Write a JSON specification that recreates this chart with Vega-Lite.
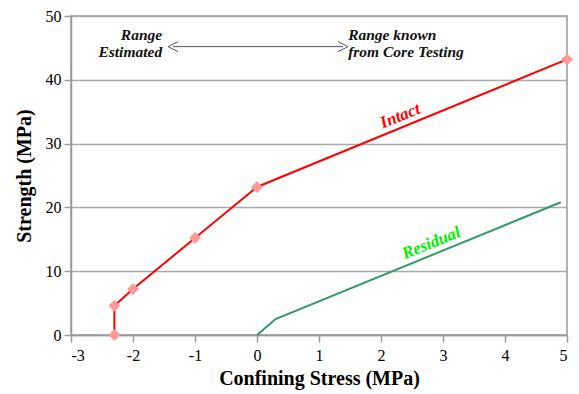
{
  "$schema": "https://vega.github.io/schema/vega-lite/v6.json",
  "width": 496,
  "height": 319,
  "autosize": {"type": "none"},
  "padding": {"left": 71, "top": 16, "right": 12, "bottom": 59},
  "background": "white",
  "config": {
    "view": {"stroke": "#999999", "strokeWidth": 1.5},
    "font": "Liberation Serif",
    "axis": {
      "domainColor": "#999999",
      "domainWidth": 1.5,
      "tickColor": "#999999",
      "tickWidth": 1.5,
      "tickSize": 7,
      "labelFont": "Liberation Serif",
      "labelFontSize": 16,
      "labelColor": "black",
      "titleFont": "Liberation Serif",
      "titleFontSize": 20,
      "titleFontWeight": "bold",
      "titleColor": "black",
      "gridColor": "#aaaaaa",
      "gridWidth": 1.5
    }
  },
  "datasets": {
    "intact": [
      {"i": 1, "x": -2.3, "y": 0},
      {"i": 2, "x": -2.3, "y": 4.6},
      {"i": 3, "x": -2, "y": 7.2},
      {"i": 4, "x": -1, "y": 15.2},
      {"i": 5, "x": 0, "y": 23.2},
      {"i": 6, "x": 5, "y": 43.2}
    ],
    "residual": [
      {"i": 1, "x": 0, "y": 0},
      {"i": 2, "x": 0.3, "y": 2.5},
      {"i": 3, "x": 4.9, "y": 20.8}
    ],
    "leftText": [
      {"x": -1.53, "y": 47.0, "t": "Range"},
      {"x": -1.53, "y": 44.28, "t": "Estimated"}
    ],
    "rightText": [
      {"x": 1.47, "y": 47.0, "t": "Range known"},
      {"x": 1.47, "y": 44.28, "t": "from Core Testing"}
    ],
    "arrow": [
      {"x": -1.355, "x2": 1.387, "y": 45.2}
    ],
    "headL": [{"x": -1.355, "y": 45.2}],
    "headR": [{"x": 1.387, "y": 45.2}],
    "intactLabel": [{"x": 2.31, "y": 34.3, "t": "Intact"}],
    "residualLabel": [{"x": 2.81, "y": 14.4, "t": "Residual"}]
  },
  "encoding": {
    "x": {
      "field": "x",
      "type": "quantitative",
      "scale": {"domain": [-3, 5], "nice": false},
      "axis": {"title": "Confining Stress (MPa)", "grid": false, "values": [-3, -2, -1, 0, 1, 2, 3, 4, 5], "labelExpr": "'' + datum.value", "labelPadding": 5, "titlePadding": 5},
      "title": "Confining Stress (MPa)"
    },
    "y": {
      "field": "y",
      "type": "quantitative",
      "scale": {"domain": [0, 50], "nice": false},
      "axis": {"title": "Strength (MPa)", "grid": true, "values": [0, 10, 20, 30, 40, 50], "labelExpr": "'' + datum.value", "labelPadding": 3, "titlePadding": 11},
      "title": "Strength (MPa)"
    }
  },
  "layer": [
    {
      "mark": {"type": "rule", "color": "black", "strokeWidth": 1},
      "encoding": {"x": {"datum": 0, "type": "quantitative"}, "y": {"value": 0}, "y2": {"value": 319}}
    },
    {
      "data": {"name": "intact"},
      "mark": {"type": "line", "color": "#ff0000", "strokeWidth": 2},
      "encoding": {"order": {"field": "i", "type": "quantitative"}}
    },
    {
      "data": {"name": "intact"},
      "mark": {"type": "point", "shape": "diamond", "filled": true, "color": "#ff9999", "opacity": 1, "size": 140}
    },
    {
      "data": {"name": "residual"},
      "mark": {"type": "line", "color": "#339966", "strokeWidth": 2},
      "encoding": {"order": {"field": "i", "type": "quantitative"}}
    },
    {
      "data": {"name": "arrow"},
      "mark": {"type": "rule", "color": "#555555", "strokeWidth": 1},
      "encoding": {"x2": {"field": "x2"}}
    },
    {
      "data": {"name": "headL"},
      "mark": {"type": "point", "shape": "M1,-1L-1,0L1,1", "filled": false, "color": "#555555", "strokeWidth": 1, "size": 100, "opacity": 1}
    },
    {
      "data": {"name": "headR"},
      "mark": {"type": "point", "shape": "M-1,-1L1,0L-1,1", "filled": false, "color": "#555555", "strokeWidth": 1, "size": 100, "opacity": 1}
    },
    {
      "data": {"name": "leftText"},
      "mark": {"type": "text", "align": "right", "baseline": "middle", "font": "Liberation Serif", "fontSize": 15.5, "fontWeight": "bold", "fontStyle": "italic", "color": "#111111"},
      "encoding": {"text": {"field": "t"}}
    },
    {
      "data": {"name": "rightText"},
      "mark": {"type": "text", "align": "left", "baseline": "middle", "font": "Liberation Serif", "fontSize": 15.5, "fontWeight": "bold", "fontStyle": "italic", "color": "#111111"},
      "encoding": {"text": {"field": "t"}}
    },
    {
      "data": {"name": "intactLabel"},
      "mark": {"type": "text", "align": "center", "baseline": "middle", "angle": -22, "font": "Liberation Serif", "fontSize": 17, "fontWeight": "bold", "fontStyle": "italic", "color": "#ff0000"},
      "encoding": {"text": {"field": "t"}}
    },
    {
      "data": {"name": "residualLabel"},
      "mark": {"type": "text", "align": "center", "baseline": "middle", "angle": -22, "font": "Liberation Serif", "fontSize": 17, "fontWeight": "bold", "fontStyle": "italic", "color": "#00ee00"},
      "encoding": {"text": {"field": "t"}}
    }
  ]
}
